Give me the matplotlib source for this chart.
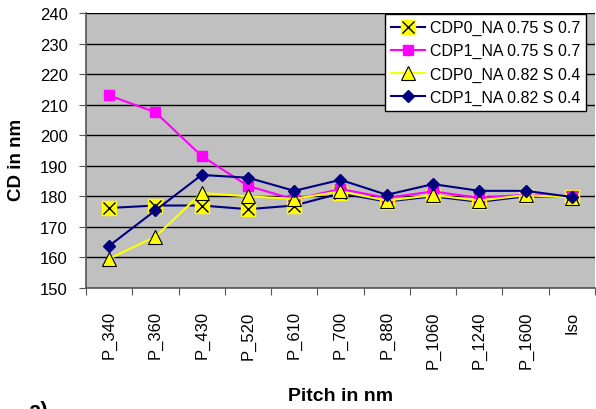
import numpy as np
import matplotlib.pyplot as plt

plt.rcParams['font.family'] = ['Liberation Sans', 'DejaVu Sans']

# data
pitches = ['P_340', 'P_360', 'P_430', 'P_520', 'P_610', 'P_700', 'P_880',
           'P_1060', 'P_1240', 'P_1600', 'Iso']
cdp0_075 = [176.2, 177.0, 177.0, 175.8, 177.0, 181.0, 178.3, 180.0, 178.2, 180.0, 179.8]
cdp1_075 = [213.0, 207.5, 193.2, 183.4, 179.0, 182.4, 179.5, 181.6, 179.5, 180.5, 180.0]
cdp0_082 = [159.6, 166.8, 181.1, 180.0, 179.2, 181.6, 178.6, 180.4, 178.6, 180.4, 179.6]
cdp1_082 = [163.8, 175.4, 187.0, 186.1, 181.8, 185.4, 180.5, 184.0, 181.8, 181.8, 179.8]

x = np.arange(len(pitches))

fig = plt.figure(figsize=(5.96, 4.10), dpi=100)
ax = fig.add_axes([0.1443, 0.295, 0.8540, 0.671])
ax.set_facecolor('#C0C0C0')

navy = '#000080'
l1a, = ax.plot(x, cdp0_075, color=navy, lw=1.5, marker='s', ms=10,
               mfc='#FFFF00', mec='#FFFF00', zorder=3)
l1b, = ax.plot(x, cdp0_075, ls='none', marker='x', ms=9, mec='black', mew=1.0, zorder=3)
l2, = ax.plot(x, cdp1_075, color='#FF00FF', lw=1.5, marker='s', ms=7,
              mfc='#FF00FF', mec='#FF00FF', zorder=4)
l3, = ax.plot(x, cdp0_082, color='#FFFF00', lw=1.5, marker='^', ms=10,
              mfc='#FFFF00', mec='black', mew=0.8, zorder=5)
l4, = ax.plot(x, cdp1_082, color=navy, lw=1.5, marker='D', ms=6,
              mfc=navy, mec=navy, zorder=6)

ax.set_xlim(-0.5, len(pitches) - 0.5)
ax.set_ylim(150, 240)
ax.set_yticks(np.arange(150, 241, 10))
ax.yaxis.grid(True, color='black', lw=1)
ax.set_axisbelow(True)

# ticks at category boundaries, labels in the middle
ax.set_xticks(np.arange(-0.5, len(pitches), 1.0))
ax.set_xticklabels([])
ax.set_xticks(x, minor=True)
ax.set_xticklabels(pitches, minor=True, rotation=90, fontsize=12)
ax.tick_params(axis='x', which='minor', length=0, pad=16)
ax.tick_params(axis='x', which='major', length=5, color='#555555', direction='out')
ax.tick_params(axis='y', length=5, color='#555555', labelsize=12, direction='out', pad=8)

for s in ['top', 'right']:
    ax.spines[s].set_visible(False)
for s in ['left', 'bottom']:
    ax.spines[s].set_color('#555555')
    ax.spines[s].set_linewidth(1.2)

ax.set_ylabel('CD in nm', fontsize=13.5, fontweight='bold', va='center')
ax.yaxis.set_label_coords(-0.1375, 0.47)
ax.set_xlabel('Pitch in nm', fontsize=14, fontweight='bold', va='center')
ax.xaxis.set_label_coords(0.5, -0.389)

leg = ax.legend([(l1a, l1b), l2, l3, l4],
                ['CDP0_NA 0.75 S 0.7', 'CDP1_NA 0.75 S 0.7',
                 'CDP0_NA 0.82 S 0.4', 'CDP1_NA 0.82 S 0.4'],
                loc='upper right', bbox_to_anchor=(0.983, 0.997), fontsize=11.5,
                fancybox=False, framealpha=1, edgecolor='black',
                borderpad=0.4, labelspacing=0.5, handlelength=2.1,
                handletextpad=0.3, borderaxespad=0.0)
leg.get_frame().set_linewidth(1.0)

fig.text(28 / 596, 9 / 410, 'a)', fontsize=16, fontweight='bold', va='top')

fig.savefig('out.png', dpi=100)
